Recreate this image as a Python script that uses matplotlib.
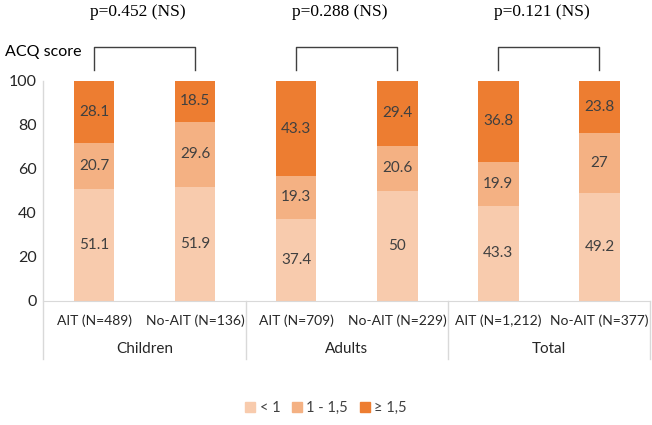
import numpy as np
import matplotlib.pyplot as plt
from matplotlib.patches import Patch

# data
groups = ['Children', 'Adults', 'Total']
bar_labels = ['AIT (N=489)', 'No-AIT (N=136)', 'AIT (N=709)', 'No-AIT (N=229)',
              'AIT (N=1,212)', 'No-AIT (N=377)']
low = [51.1, 51.9, 37.4, 50, 43.3, 49.2]        # < 1
mid = [20.7, 29.6, 19.3, 20.6, 19.9, 27]        # 1 - 1,5
high = [28.1, 18.5, 43.3, 29.4, 36.8, 23.8]     # >= 1,5
p_values = ['p=0.452 (NS)', 'p=0.288 (NS)', 'p=0.121 (NS)']
series_names = ['< 1', '1 - 1,5', '≥ 1,5']
colors = ['#F8CBAD', '#F4B183', '#ED7D31']

plt.rcParams['font.family'] = ['Lato', 'DejaVu Sans']

fig = plt.figure(figsize=(6.52, 4.25), dpi=100)
ax = fig.add_axes([43.5 / 652, 1 - 301 / 425, 606.5 / 652, 220 / 425])

x = np.arange(len(bar_labels))
w = 0.40
b1 = ax.bar(x, low, w, color=colors[0])
b2 = ax.bar(x, mid, w, bottom=low, color=colors[1])
bottom2 = np.array(low) + np.array(mid)
b3 = ax.bar(x, high, w, bottom=bottom2, color=colors[2])
for bars in (b1, b2, b3):
    ax.bar_label(bars, labels=[f'{v:g}' for v in bars.datavalues], label_type='center',
                 fontsize=11, color='#404040')

ax.set_xlim(-0.5, 5.5)
ax.set_ylim(0, 100)
ax.set_yticks([0, 20, 40, 60, 80, 100])
ax.tick_params(axis='y', length=0, labelsize=11.5, pad=5, labelcolor='#262626')
ax.set_xticks([])
for s in ['top', 'right', 'left']:
    ax.spines[s].set_visible(False)
ax.spines['bottom'].set_color('#D9D9D9')

# category axis labels and separators
for i, lab in enumerate(bar_labels):
    ax.text(i, -9, lab, ha='center', va='center', fontsize=10, color='#262626')
for g, name in enumerate(groups):
    ax.text(2 * g + 0.5, -21.8, name, ha='center', va='center', fontsize=11, color='#262626')
for sx in [-0.5, 1.5, 3.5, 5.5]:
    ax.plot([sx, sx], [100 if sx == -0.5 else 0, -26.4], color='#D9D9D9', lw=1, clip_on=False)

# brackets with p values
for g, p in enumerate(p_values):
    x0, x1 = 2 * g, 2 * g + 1
    ax.plot([x0, x0, x1, x1], [105, 115.5, 115.5, 105], color='#404040', lw=1, clip_on=False)
    ax.text(2 * g + 0.43, 131.5, p, ha='center', va='center', fontsize=12.5,
            family='Liberation Serif', color='black')

fig.text(5 / 652, 1 - 52 / 425, 'ACQ score', ha='left', va='center', fontsize=11.5)

handles = [Patch(color=c) for c in colors]
fig.legend(handles, series_names, loc='center', bbox_to_anchor=(0.5, 1 - 408 / 425),
           ncol=3, frameon=False, fontsize=10.5, handlelength=0.7, handleheight=0.7,
           handletextpad=0.3, columnspacing=0.8, labelcolor='#404040')

fig.savefig('out.png', dpi=100)
